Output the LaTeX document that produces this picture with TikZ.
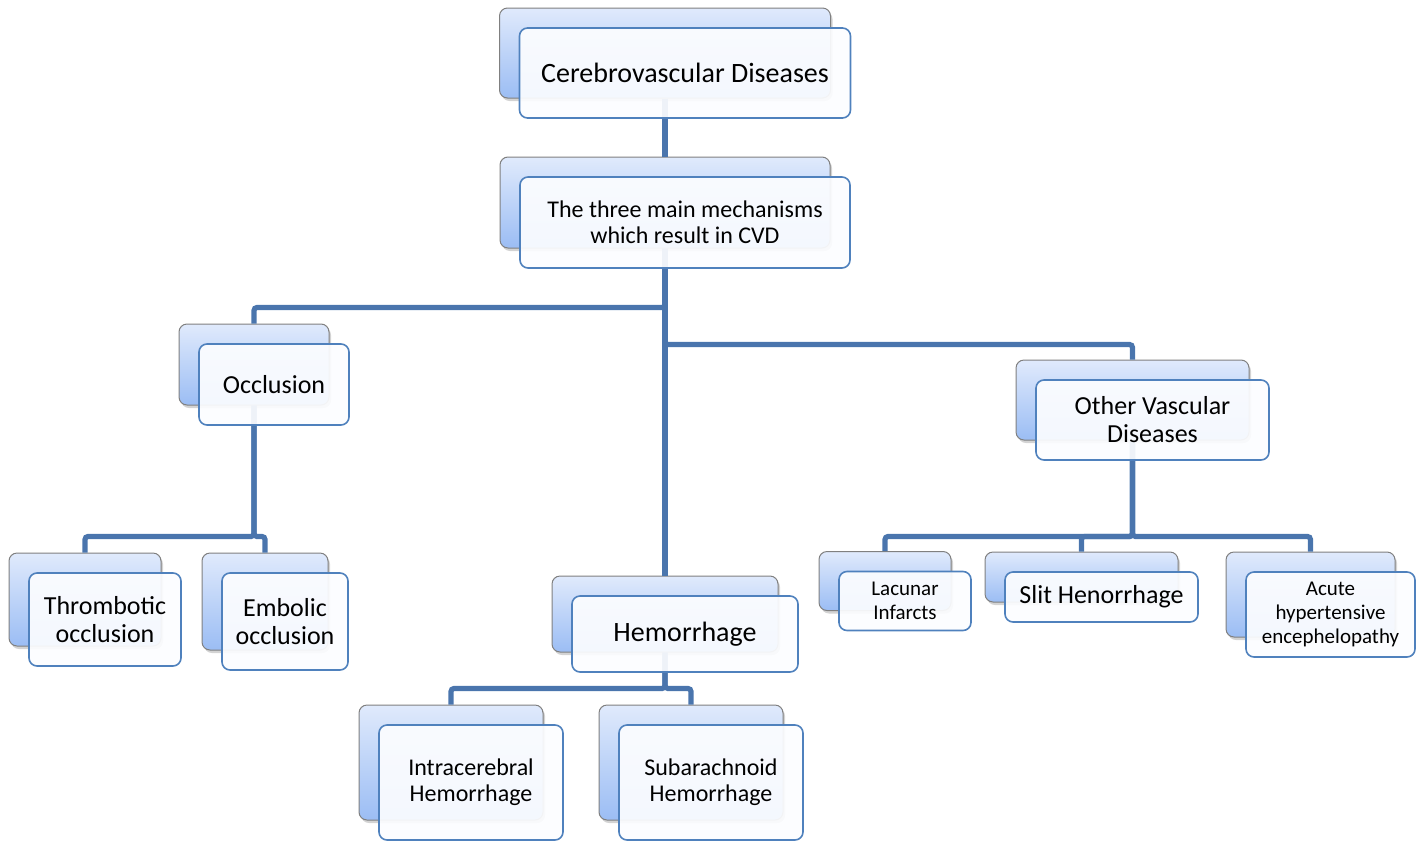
\documentclass[tikz,border=0pt]{standalone}
\usepackage{fontspec}
\setmainfont{Carlito}
\usetikzlibrary{positioning}
\usetikzlibrary{shadows}

\definecolor{linkblue}{RGB}{74,117,173}
\definecolor{frontblue}{RGB}{79,129,189}
\definecolor{frontfill}{RGB}{252,253,255}
\definecolor{boxtop}{RGB}{224,234,252}
\definecolor{boxbottom}{RGB}{155,189,244}

\begin{document}
\begin{tikzpicture}[x=0.5pt,y=-0.5pt,
    backbox/.style={rectangle, rounded corners=4pt, draw=black!50, line width=0.5pt,
        top color=boxtop, bottom color=boxbottom, inner sep=0pt,
        drop shadow={opacity=0.35, shadow xshift=1pt, shadow yshift=-1.5pt}},
    frontbox/.style={rectangle, rounded corners=4pt, draw=frontblue, line width=0.8pt,
        fill=frontfill, fill opacity=0.92, text opacity=1, align=center, inner sep=0pt},
    link/.style={draw=linkblue, line width=2.6pt, rounded corners=1.5pt},
    txtA/.style={font=\fontsize{14}{15}\selectfont},
    txtB/.style={font=\fontsize{13}{14}\selectfont},
    txtC/.style={font=\fontsize{12}{13}\selectfont},
    txtD/.style={font=\fontsize{10.5}{11.8}\selectfont},
  ]
  \useasboundingbox (0,0) rectangle (1424,841);

  % back boxes
  \node [backbox, minimum width=165.5pt, minimum height=45pt] (cvdB) at (665,53) {};
  \node [backbox, minimum width=165pt, minimum height=45.5pt] (mechB) at (665,202.5) {};
  \node [backbox, minimum width=75pt, minimum height=40.5pt] (occB) at (254,364.5) {};
  \node [backbox, minimum width=116.5pt, minimum height=40pt] (othB) at (1132.5,400) {};
  \node [backbox, minimum width=76pt, minimum height=46.5pt] (thrB) at (85,599.5) {};
  \node [backbox, minimum width=63pt, minimum height=48.5pt] (embB) at (265,601.5) {};
  \node [backbox, minimum width=113pt, minimum height=38pt] (hemB) at (665,614) {};
  \node [backbox, minimum width=92pt, minimum height=57.5pt] (ichB) at (451,762.5) {};
  \node [backbox, minimum width=92pt, minimum height=57.5pt] (sahB) at (691,762.5) {};
  \node [backbox, minimum width=66pt, minimum height=29.5pt] (lacB) at (885,581) {};
  \node [backbox, minimum width=96.5pt, minimum height=25pt] (slitB) at (1081.5,577) {};
  \node [backbox, minimum width=84.5pt, minimum height=42.5pt] (acuB) at (1310.5,594.5) {};

  % connectors
  \draw [link] (cvdB.south) -- (mechB.north);
  \draw [link] (mechB.south) -- (hemB.north);
  \draw [link] (mechB.south) -- ++(0,59) -| (occB.north);
  \draw [link] (mechB.south) -- ++(0,96) -| (othB.north);
  \draw [link] (occB.south) -- ++(0,131) -| (thrB.north);
  \draw [link] (occB.south) -- ++(0,131) -| (embB.north);
  \draw [link] (hemB.south) -- ++(0,36) -| (ichB.north);
  \draw [link] (hemB.south) -- ++(0,36) -| (sahB.north);
  \draw [link] (othB.south) -- ++(0,96) -| (lacB.north);
  \draw [link] (othB.south) -- ++(0,96) -| (slitB.north);
  \draw [link] (othB.south) -- ++(0,96) -| (acuB.north);

  % front boxes
  \node [frontbox, txtA, minimum width=165.5pt, minimum height=45pt] (cvd) at ([shift={(20,20)}]cvdB.center) {Cerebrovascular Diseases};
  \node [frontbox, txtC, minimum width=165pt, minimum height=45.5pt] (mech) at ([shift={(20,20)}]mechB.center) {The three main mechanisms\\which result in CVD};
  \node [frontbox, txtB, minimum width=75pt, minimum height=40.5pt] (occ) at ([shift={(20,20)}]occB.center) {Occlusion};
  \node [frontbox, txtB, minimum width=116.5pt, minimum height=40pt] (oth) at ([shift={(20,20)}]othB.center) {Other Vascular\\Diseases};
  \node [frontbox, txtB, minimum width=76pt, minimum height=46.5pt] (thr) at ([shift={(20,20)}]thrB.center) {Thrombotic\\occlusion};
  \node [frontbox, txtB, minimum width=63pt, minimum height=48.5pt] (emb) at ([shift={(20,20)}]embB.center) {Embolic\\occlusion};
  \node [frontbox, txtA, minimum width=113pt, minimum height=38pt] (hem) at ([shift={(20,20)}]hemB.center) {Hemorrhage};
  \node [frontbox, txtC, minimum width=92pt, minimum height=57.5pt] (ich) at ([shift={(20,20)}]ichB.center) {Intracerebral\\Hemorrhage};
  \node [frontbox, txtC, minimum width=92pt, minimum height=57.5pt] (sah) at ([shift={(20,20)}]sahB.center) {Subarachnoid\\Hemorrhage};
  \node [frontbox, txtD, minimum width=66pt, minimum height=29.5pt] (lac) at ([shift={(20,20)}]lacB.center) {Lacunar\\Infarcts};
  \node [frontbox, txtB, minimum width=96.5pt, minimum height=25pt] (slit) at ([shift={(20,20)}]slitB.center) {Slit Henorrhage};
  \node [frontbox, txtD, minimum width=84.5pt, minimum height=42.5pt] (acu) at ([shift={(20,20)}]acuB.center) {Acute\\hypertensive\\encephelopathy};

\end{tikzpicture}
\end{document}
